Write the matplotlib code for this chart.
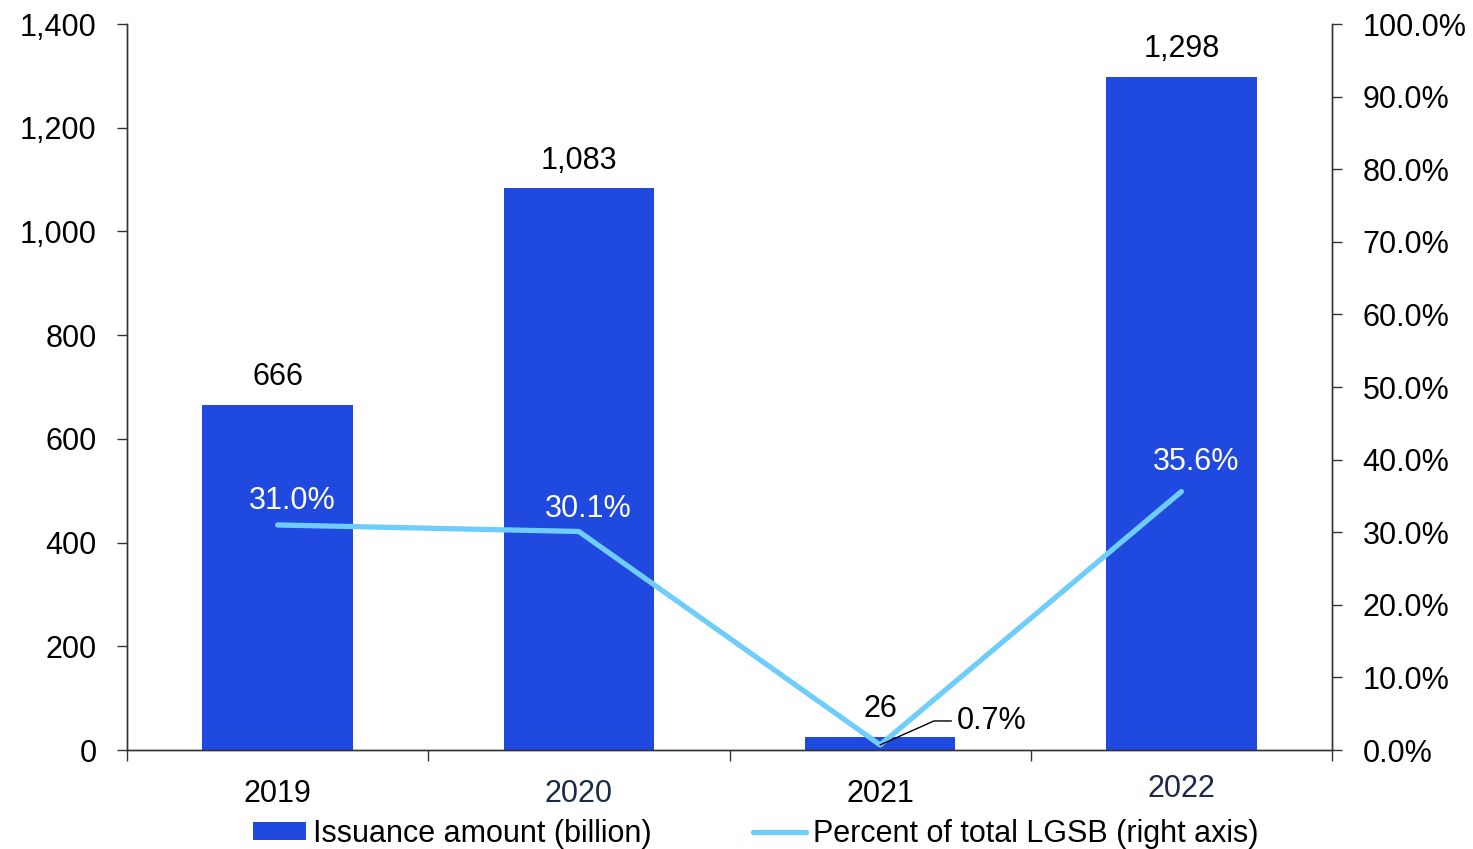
import numpy as np
import matplotlib.pyplot as plt
from matplotlib import ticker

plt.rcParams['font.family'] = ['Liberation Sans', 'DejaVu Sans']

# Annual issuance and share of total LGSB
years = ['2019', '2020', '2021', '2022']
issuance = [666, 1083, 26, 1298]
share_pct = [31.0, 30.1, 0.7, 35.6]

bar_color = '#2049e0'
line_color = '#6fcdfb'
fs = 22

fig = plt.figure(figsize=(14.73, 8.49), dpi=100)
ax = fig.add_axes([0.0862, 0.1166, 0.8181, 0.8551])
ax2 = ax.twinx()

x = np.arange(len(years))
ax.bar(x, issuance, width=0.5, color=bar_color, zorder=2, label='Issuance amount (billion)')
ax2.plot(x, share_pct, color=line_color, lw=3.8, solid_capstyle='round', zorder=3,
         label='Percent of total LGSB (right axis)')

# bar value labels
for xi, v in zip(x, issuance):
    ax.text(xi, v + 24, f'{v:,}', ha='center', va='bottom', fontsize=fs, color='black')

# percent labels
offsets = {0: (0.05, 1.2), 1: (0.03, 1.1), 3: (0.05, 2.0)}
for i, p in enumerate(share_pct):
    if i in offsets:
        dx, dy = offsets[i]
        ax2.text(x[i] + dx, p + dy, f'{p:.1f}%', ha='center', va='bottom', fontsize=fs, color='white')
ax2.annotate(f'{share_pct[2]:.1f}%', xy=(x[2], share_pct[2]), xytext=(x[2] + 0.255, 4.0),
             ha='left', va='center', fontsize=fs, color='black',
             arrowprops=dict(arrowstyle='-', color='black', lw=1,
                             connectionstyle='angle,angleA=0,angleB=24,rad=0',
                             shrinkA=2, shrinkB=0))

ax.set_xlim(-0.5, 3.5)
ax.set_ylim(0, 1400)
ax.set_yticks(np.arange(0, 1401, 200))
ax.yaxis.set_major_formatter(ticker.StrMethodFormatter('{x:,.0f}'))
ax2.set_ylim(0, 100)
ax2.set_yticks(np.arange(0, 101, 10))
ax2.yaxis.set_major_formatter(ticker.StrMethodFormatter('{x:.1f}%'))

# category boundary ticks on the x axis
ax.set_xticks(np.arange(-0.5, 3.6, 1))
ax.set_xticklabels([])
ax.tick_params(axis='x', length=8, width=1, color='#333333')
year_colors = ['black', '#1b2a45', 'black', '#1b2a45']
year_y = [-0.060, -0.060, -0.060, -0.054]
for xi, yr, c, yy in zip(x, years, year_colors, year_y):
    ax.text(xi, yy, yr, transform=ax.get_xaxis_transform(), ha='center', va='center',
            fontsize=fs, color=c)

ax.tick_params(axis='y', length=7, width=1, color='#333333', labelsize=fs, pad=15)
ax2.tick_params(axis='y', length=7, width=1, color='#333333', labelsize=fs, pad=15)

for a in (ax, ax2):
    a.spines['top'].set_visible(False)
    for s in ('left', 'right', 'bottom'):
        a.spines[s].set_color('#333333')
        a.spines[s].set_linewidth(1)

h1, l1 = ax.get_legend_handles_labels()
h2, l2 = ax2.get_legend_handles_labels()
fig.legend(h1 + h2, l1 + l2, loc='center', bbox_to_anchor=(0.513, 0.018), ncol=2,
           frameon=False, fontsize=fs, handlelength=1.75, handleheight=0.55,
           handletextpad=0.22, columnspacing=3.3, borderaxespad=0)

fig.savefig('out.png', dpi=100)
